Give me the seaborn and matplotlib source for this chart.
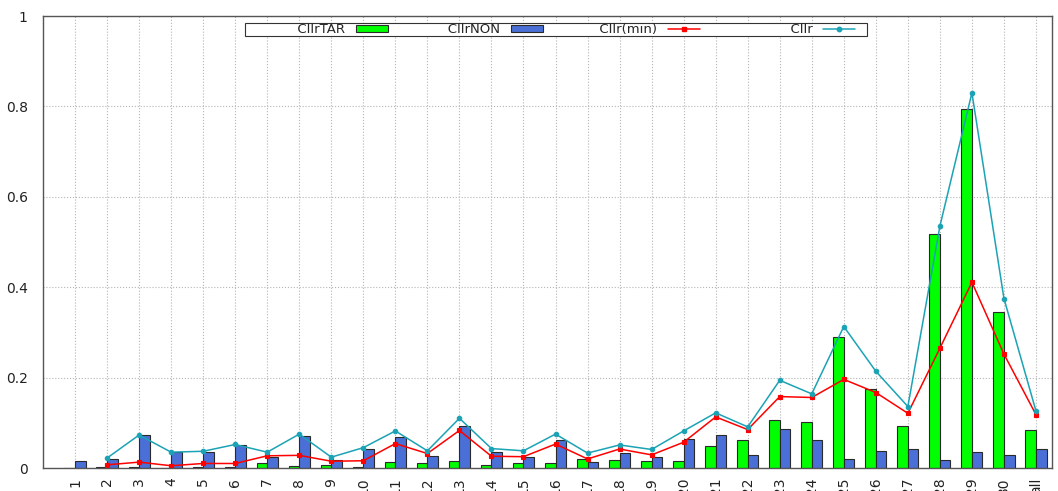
import matplotlib
matplotlib.use("Agg")
import matplotlib.pyplot as plt
from matplotlib.patches import Patch
from matplotlib.lines import Line2D
from matplotlib.legend_handler import HandlerPatch, HandlerLine2D
from matplotlib.font_manager import FontProperties
import numpy as np
import pandas as pd
import seaborn as sns

labels = [str(i) for i in range(1, 31)] + ["all"]
cllr_tar = [0.0, 0.002, 0.002, 0.0, 0.002, 0.002, 0.012, 0.004, 0.006, 0.003,
            0.013, 0.011, 0.015, 0.007, 0.011, 0.010, 0.020, 0.018, 0.016, 0.016,
            0.049, 0.061, 0.106, 0.101, 0.290, 0.175, 0.093, 0.517, 0.794, 0.346,
            0.085]
cllr_non = [0.015, 0.020, 0.072, 0.035, 0.035, 0.050, 0.024, 0.071, 0.017, 0.042,
            0.068, 0.026, 0.094, 0.035, 0.024, 0.063, 0.013, 0.033, 0.024, 0.065,
            0.073, 0.029, 0.086, 0.061, 0.020, 0.038, 0.042, 0.017, 0.036, 0.028,
            0.041]
cllr_min = [np.nan, 0.007, 0.013, 0.005, 0.010, 0.010, 0.027, 0.028, 0.015, 0.016,
            0.054, 0.032, 0.083, 0.026, 0.025, 0.053, 0.020, 0.042, 0.029, 0.057,
            0.113, 0.085, 0.158, 0.156, 0.196, 0.167, 0.121, 0.265, 0.411, 0.252,
            0.118]
cllr = [np.nan, 0.022, 0.073, 0.035, 0.037, 0.052, 0.035, 0.075, 0.024, 0.045,
        0.082, 0.038, 0.110, 0.043, 0.038, 0.075, 0.033, 0.051, 0.041, 0.082,
        0.122, 0.091, 0.194, 0.164, 0.313, 0.214, 0.136, 0.535, 0.830, 0.375,
        0.126]
legend_labels = ["CllrTAR", "CllrNON", "Cllr(min)", "Cllr"]

green = "#00ff00"
blue = "#4a6fd6"
red = "#ff0000"
teal = "#1ba3b5"

bars = pd.DataFrame({
    "cond": labels * 2,
    "value": cllr_tar + cllr_non,
    "metric": ["CllrTAR"] * len(labels) + ["CllrNON"] * len(labels),
})
lines = pd.DataFrame({
    "cond": labels * 2,
    "value": cllr_min + cllr,
    "metric": ["Cllr(min)"] * len(labels) + ["Cllr"] * len(labels),
})

sns.set_style("white")
fig = plt.figure(figsize=(10.58, 4.91), dpi=100)
ax = fig.add_axes([43 / 1058, 23 / 491, 1009 / 1058, 452 / 491])
ax.set_axisbelow(True)

sns.barplot(data=bars, x="cond", y="value", hue="metric", order=labels,
            hue_order=["CllrTAR", "CllrNON"], palette=[green, blue],
            width=0.66, edgecolor="#2a2a2a", linewidth=0.8, legend=False,
            saturation=1, ax=ax)
sns.pointplot(data=lines, x="cond", y="value", hue="metric", order=labels,
              hue_order=["Cllr(min)", "Cllr"], palette=[red, teal],
              markers=["s", "o"], markersize=3.2, linewidth=1.1,
              errorbar=None, legend=False, ax=ax)

ax.set_xlim(-1, 30.5)
ax.set_ylim(0, 1)
ax.set_yticks([0, 0.2, 0.4, 0.6, 0.8, 1.0])
ax.set_yticklabels(["0", "0.2", "0.4", "0.6", "0.8", "1"])
ax.set_xticks(range(len(labels)))
# labels run off the bottom edge, as in the original export
ax.set_xticklabels(labels, rotation=90, va="top", ha="center")
ax.set_xlabel("")
ax.set_ylabel("")
ax.grid(True, color="#b5b5b5", linestyle=":", linewidth=0.8)
ax.tick_params(axis="both", direction="in", length=4, color="#555555",
               labelsize=10, labelcolor="#222222")
ax.tick_params(axis="y", pad=11)
ax.tick_params(axis="x", pad=7)
for s in ax.spines.values():
    s.set_color("#555555")
    s.set_linewidth(1.0)


# handles only fill the left part of their box, leaving a gap after them
class ShortPatch(HandlerPatch):
    def create_artists(self, legend, orig_handle, xdescent, ydescent,
                       width, height, fontsize, trans):
        return super().create_artists(legend, orig_handle, xdescent, ydescent,
                                      width * 0.73, height, fontsize, trans)


class ShortLine(HandlerLine2D):
    def create_artists(self, legend, orig_handle, xdescent, ydescent,
                       width, height, fontsize, trans):
        return super().create_artists(legend, orig_handle, xdescent, ydescent,
                                      width * 0.73, height, fontsize, trans)


# right-align legend texts by padding with leading spaces
renderer = fig.canvas.get_renderer()
prop = FontProperties(size=9.5)


def text_w(s):
    return renderer.get_text_width_height_descent(s, prop, ismath=False)[0]


def pad_left(s, target):
    t = s
    while text_w(" " + t) <= target:
        t = " " + t
    while text_w("\u200a" + t) <= target:
        t = "\u200a" + t
    return t


padded = [pad_left(s, 100) for s in legend_labels]

handles = [
    Patch(facecolor=green, edgecolor="#2a2a2a", linewidth=0.8),
    Patch(facecolor=blue, edgecolor="#2a2a2a", linewidth=0.8),
    Line2D([], [], color=red, marker="s", markersize=3.2, linewidth=1.1),
    Line2D([], [], color=teal, marker="o", markersize=3.2, linewidth=1.1),
]
leg = ax.legend(handles, padded,
                loc="lower left", bbox_to_anchor=(0.2, 0.955, 0.617, 0.024),
                mode="expand", ncol=4, markerfirst=False, fancybox=False,
                framealpha=1, edgecolor="#333333", fontsize=9.5,
                borderpad=0.0, handlelength=44 / 13.2, handleheight=0.5,
                handletextpad=0.83, columnspacing=0, borderaxespad=0,
                handler_map={Patch: ShortPatch(), Line2D: ShortLine()})
leg.get_frame().set_linewidth(0.8)

fig.savefig("out.png", dpi=100)
